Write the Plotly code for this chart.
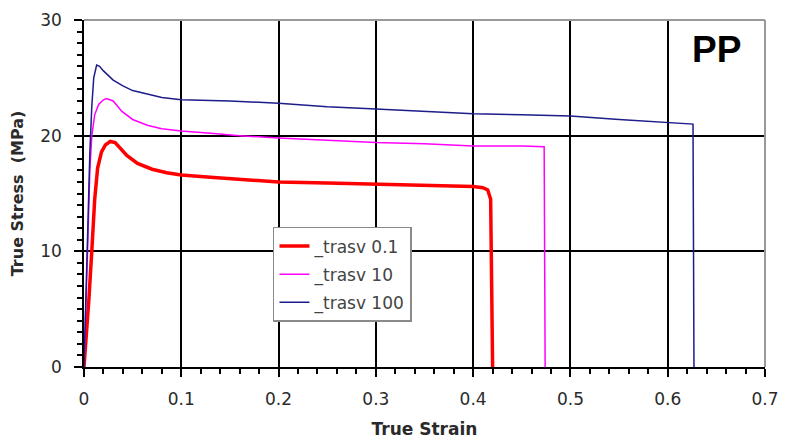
import plotly.graph_objects as go

# ---- data ----
red_x = [0, 0.003, 0.005, 0.008, 0.011, 0.014, 0.018, 0.022, 0.027, 0.032, 0.036, 0.044,
         0.055, 0.07, 0.085, 0.1, 0.13, 0.16, 0.2, 0.25, 0.3, 0.35, 0.4, 0.41, 0.415, 0.418, 0.419, 0.42]
red_y = [0, 3, 5.8, 10, 14.5, 17.2, 18.6, 19.2, 19.5, 19.4, 19.0, 18.3,
         17.6, 17.1, 16.8, 16.6, 16.4, 16.2, 16.0, 15.9, 15.8, 15.7, 15.6, 15.5, 15.3, 14.5, 5, 0]

mag_x = [0, 0.002, 0.004, 0.006, 0.008, 0.011, 0.015, 0.02, 0.023, 0.03, 0.039, 0.05,
         0.065, 0.08, 0.1, 0.13, 0.16, 0.2, 0.25, 0.3, 0.35, 0.4, 0.45, 0.473, 0.474]
mag_y = [0, 5, 11, 17, 20, 21.8, 22.7, 23.1, 23.2, 23.0, 22.1, 21.4,
         20.9, 20.6, 20.4, 20.2, 20.0, 19.8, 19.6, 19.4, 19.3, 19.1, 19.1, 19.05, 0]

blue_x = [0, 0.002, 0.004, 0.006, 0.008, 0.01, 0.013, 0.016, 0.02, 0.025, 0.03, 0.04,
          0.05, 0.065, 0.08, 0.1, 0.15, 0.2, 0.25, 0.3, 0.35, 0.4, 0.45, 0.5, 0.55, 0.6, 0.626, 0.627]
blue_y = [0, 6, 13, 18.5, 22.5, 25.0, 26.1, 26.0, 25.6, 25.2, 24.8, 24.3,
          23.9, 23.6, 23.3, 23.1, 23.0, 22.8, 22.5, 22.3, 22.1, 21.9, 21.8, 21.7, 21.4, 21.1, 21.0, 0]

series_names = ["_trasv 0.1", "_trasv 10", "_trasv 100"]
x_range = [0, 0.7]
y_range = [0, 30]
x_major_step = 0.1
y_major_step = 10

FONT = "DejaVu Sans, Verdana, sans-serif"

fig = go.Figure()
styles = [("#ff0000", 3.5), ("#ff00ff", 1.5), ("#1c1c8a", 1.5)]
for (xs, ys), name, (col, w) in zip([(red_x, red_y), (mag_x, mag_y), (blue_x, blue_y)],
                                    series_names, styles):
    fig.add_trace(go.Scatter(x=xs, y=ys, mode="lines", name=name, legendgroup=name,
                             line=dict(color=col, width=w)))

tickfont = dict(family=FONT, size=17, color="#2a2a2a")
titlefont = dict(family=FONT, size=16, color="#2a2a2a", weight="bold")

axis_common = dict(
    showgrid=True, gridcolor="black", gridwidth=1.5,
    showline=True, linecolor="black", linewidth=1.5,
    ticks="outside", ticklen=8, tickwidth=1.5, tickcolor="black",
    zeroline=False, tickfont=tickfont, automargin=False, tickmode="linear", tick0=0,
)

# the page body adds an 8px offset, so the figure is 8px smaller and margins shifted
fig.update_layout(
    width=776, height=431,
    margin=dict(l=76, r=19, t=12, b=72),
    paper_bgcolor="white", plot_bgcolor="white",
    showlegend=True,
    legend=dict(x=0.2775, y=0.4035, xanchor="left", yanchor="top",
                bgcolor="white", bordercolor="#8a8a8a", borderwidth=1.5,
                font=dict(family=FONT, size=17, color="#444444"),
                traceorder="grouped", tracegroupgap=3),
    xaxis=dict(range=x_range, dtick=x_major_step, ticklabelstandoff=8,
               minor=dict(dtick=0.02, ticks="outside", ticklen=5, tickwidth=1.5,
                          tickcolor="black", showgrid=False),
               title=dict(text="True Strain", font=dict(family=FONT, size=17, color="#2a2a2a",
                                                        weight="bold"), standoff=22),
               **axis_common),
    yaxis=dict(range=y_range, dtick=y_major_step, ticklabelstandoff=9,
               minor=dict(dtick=1, ticks="outside", ticklen=5, tickwidth=1.5,
                          tickcolor="black", showgrid=False),
               title=dict(text="True Stress  (MPa)", font=titlefont, standoff=14),
               **axis_common),
)

# gray frame on top and right
fig.add_shape(type="line", xref="paper", yref="paper", x0=0, x1=1, y0=1, y1=1,
              line=dict(color="#999999", width=2), layer="above")
fig.add_shape(type="line", xref="paper", yref="paper", x0=1, x1=1, y0=0, y1=1,
              line=dict(color="#999999", width=2), layer="above")

fig.add_annotation(text="<b>PP</b>", xref="paper", yref="paper", x=0.929, y=0.915,
                   xanchor="center", yanchor="middle", showarrow=False,
                   font=dict(family="Liberation Sans, Arial, sans-serif", size=37, color="black"))

fig.write_html("out.html")
